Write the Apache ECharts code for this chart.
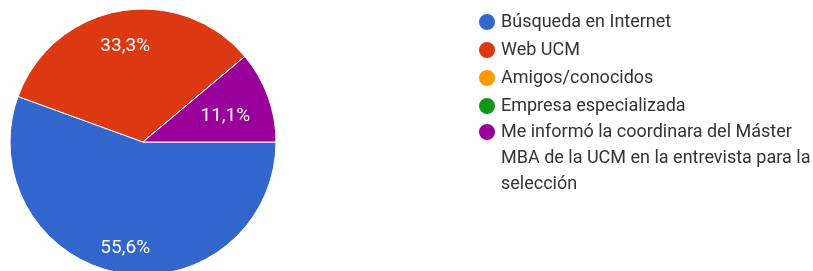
<!DOCTYPE html>
<html>
<head>
<meta charset="utf-8">
<script src="https://cdn.jsdelivr.net/npm/echarts@6/dist/echarts.min.js"></script>
<style>
  html, body { margin: 0; padding: 0; background: #fff; }
  #main { width: 813px; height: 271px; }
</style>
</head>
<body>
<div id="main"></div>
<script>
const categories = [
  'Búsqueda en Internet',
  'Web UCM',
  'Amigos/conocidos',
  'Empresa especializada',
  'Me informó la coordinara del Máster\nMBA de la UCM en la entrevista para la\nselección'
];
const values = [5, 3, 0, 0, 1];
const colors = ['#3366cc', '#dc3912', '#ff9900', '#109618', '#990099'];

const chart = echarts.init(document.getElementById('main'), null, { renderer: 'canvas' });

const fontFamily = 'Roboto, Arial, sans-serif';

function pctLabel(p) {
  return p.percent.toFixed(1).replace('.', ',') + '%';
}

const pieData = categories.map(function (name, i) {
  return { name: name, value: values[i], itemStyle: { color: colors[i] } };
});

// transparent ring only used to put the % labels at ~3/4 of the radius
const labelData = categories.map(function (name, i) {
  return { name: name, value: values[i] };
});

const legendText = {
  fontFamily: fontFamily,
  fontSize: 18,
  color: '#333333'
};

const option = {
  animation: false,
  color: colors,
  legend: [
    {
      orient: 'vertical',
      left: 472,
      top: 7,
      icon: 'circle',
      itemWidth: 18,
      itemHeight: 18,
      itemGap: 8,
      selectedMode: false,
      textStyle: legendText,
      data: categories.slice(0, 4)
    },
    {
      // multi-line entry: two blank lines on top keep the first line on the marker
      orient: 'vertical',
      left: 472,
      top: 62,
      icon: 'circle',
      itemWidth: 18,
      itemHeight: 18,
      selectedMode: false,
      formatter: function (name) { return '\n\n' + name; },
      textStyle: Object.assign({ lineHeight: 26 }, legendText),
      data: categories.slice(4)
    }
  ],
  series: [
    {
      type: 'pie',
      center: [143, 142],
      radius: 133,
      startAngle: 0,
      clockwise: true,
      silent: true,
      label: { show: false },
      labelLine: { show: false },
      itemStyle: { borderColor: '#ffffff', borderWidth: 1 },
      data: pieData
    },
    {
      type: 'pie',
      center: [143, 142],
      radius: [66, 133],
      startAngle: 0,
      clockwise: true,
      silent: true,
      minShowLabelAngle: 1,
      itemStyle: { color: 'rgba(0,0,0,0)' },
      label: {
        show: true,
        position: 'inside',
        formatter: pctLabel,
        color: '#ffffff',
        fontFamily: fontFamily,
        fontSize: 19,
        textBorderWidth: 0
      },
      labelLine: { show: false },
      labelLayout: function (params) {
        // small slice label sits a bit closer to the centre
        if (params.dataIndex === 4) return { dx: -14, dy: 9 };
        return { dy: 5 };
      },
      data: labelData
    }
  ]
};

chart.setOption(option);
</script>
</body>
</html>
